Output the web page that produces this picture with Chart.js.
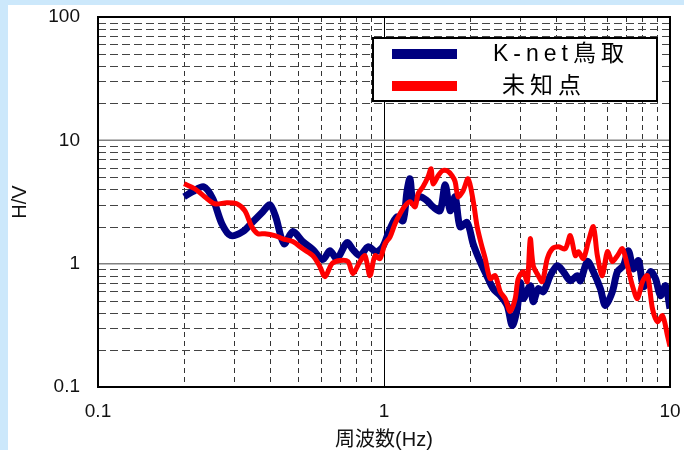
<!DOCTYPE html>
<html>
<head>
<meta charset="utf-8">
<script src="https://cdn.jsdelivr.net/npm/chart.js@4.4.1/dist/chart.umd.min.js"></script>
<style>
  html, body { margin: 0; padding: 0; background: #cce8fb; }
  #wrap { position: absolute; left: 0; top: 0; width: 684px; height: 450px; }
</style>
</head>
<body>
<div id="wrap"><canvas id="chart" width="684" height="450"></canvas></div>
<script>
// H/V spectral ratio, K-net station vs. unknown point
const seriesNames = ['K-net鳥取', '未知点'];

const freqKnet = [0.2, 0.214, 0.234, 0.252, 0.271, 0.291, 0.321, 0.348, 0.377, 0.399, 0.418, 0.447,
  0.48, 0.52, 0.564, 0.611, 0.647, 0.685, 0.742, 0.779, 0.824, 0.879, 0.938, 0.99, 1.05, 1.111,
  1.166, 1.204, 1.233, 1.264, 1.337, 1.414, 1.484, 1.571, 1.636, 1.703, 1.773, 1.845, 1.953,
  2.05, 2.169, 2.296, 2.409, 2.549, 2.697, 2.808, 2.923, 2.995, 3.068, 3.247, 3.326, 3.463,
  3.606, 3.815, 4.036, 4.236, 4.482, 4.742, 4.859, 5.14, 5.395, 5.709, 5.943, 6.289, 6.548,
  6.872, 7.154, 7.449, 7.757, 8.076, 8.545, 8.897, 9.263, 9.643, 10.0];
const hvKnet = [3.49, 3.83, 4.2, 3.36, 2.11, 1.69, 1.82, 2.19, 2.64, 3.0, 2.4, 1.45,
  1.82, 1.51, 1.3, 1.08, 1.27, 1.1, 1.48, 1.3, 1.16, 1.37, 1.25, 1.37, 1.92, 2.4,
  2.23, 3.9, 4.88, 3.24, 3.49, 3.24, 2.89, 2.69, 4.36, 2.69, 3.49, 1.99, 2.15,
  1.45, 1.04, 0.785, 0.627, 0.551, 0.457, 0.315, 0.432, 0.702, 0.521, 0.663, 0.492, 0.627,
  0.593, 0.799, 0.963, 0.861, 0.728, 0.799, 0.728, 1.04, 0.861, 0.627, 0.457, 0.593, 0.861,
  0.963, 1.27, 0.911, 1.06, 0.651, 0.861, 0.756, 0.551, 0.663, 0.432];

const freqPoint = [0.2, 0.218, 0.236, 0.256, 0.282, 0.306, 0.326, 0.345, 0.362, 0.383, 0.415, 0.443,
  0.48, 0.52, 0.564, 0.597, 0.622, 0.658, 0.701, 0.748, 0.779, 0.824, 0.858, 0.893, 0.93, 0.968,
  1.008, 1.05, 1.093, 1.138, 1.185, 1.233, 1.284, 1.316, 1.369, 1.426, 1.461, 1.484, 1.546,
  1.597, 1.663, 1.73, 1.773, 1.816, 1.891, 1.969, 2.05, 2.117, 2.187, 2.259, 2.351, 2.448,
  2.549, 2.653, 2.763, 2.876, 2.947, 3.068, 3.169, 3.247, 3.326, 3.463, 3.577, 3.724, 3.877,
  4.069, 4.305, 4.482, 4.667, 4.781, 4.978, 5.182, 5.395, 5.573, 5.801, 6.04, 6.289, 6.548,
  6.817, 7.097, 7.389, 7.694, 8.011, 8.341, 8.684, 9.042, 9.413, 9.8, 10.0];
const hvPoint = [4.44, 4.05, 3.49, 3.06, 3.12, 3.06, 2.69, 1.99, 1.75, 1.75, 1.69, 1.59,
  1.51, 1.32, 1.16, 0.946, 0.785, 1.0, 1.06, 1.04, 0.83, 1.04, 1.16, 0.799, 1.16, 1.1,
  1.45, 1.65, 2.11, 2.54, 2.95, 3.18, 2.89, 3.69, 4.2, 5.06, 5.88, 4.44, 5.16,
  5.66, 5.66, 5.16, 4.61, 3.49, 3.9, 4.88, 3.24, 1.99, 1.45, 1.1, 0.756, 0.799,
  0.593, 0.521, 0.409, 0.521, 0.756, 0.861, 0.715, 1.59, 0.963, 0.799, 0.715, 1.1, 1.32,
  1.37, 1.32, 1.69, 1.16, 1.25, 1.1, 1.51, 1.99, 1.16, 0.799, 1.25, 1.04, 1.16,
  1.32, 0.963, 0.663, 0.521, 0.715, 0.799, 0.432, 0.339, 0.379, 0.261, 0.213];

const xTicks = [0.1, 1, 10];
const yTicks = [0.1, 1, 10, 100];
const minorSteps = [2, 3, 4, 5, 6, 7, 8, 9];

const toPoints = (xs, ys) => xs.map((x, i) => ({ x, y: ys[i] }));

const crisp = v => Math.round(v) + 0.5;

// fixed axis boxes, no automatic label overhang padding
const fixBox = (w, h) => s => {
  if (w) s.width = w;
  if (h) s.height = h;
  s.paddingTop = s.paddingBottom = s.paddingLeft = s.paddingRight = 0;
};

const frame = {
  id: 'frame',
  beforeDraw(chart) {
    const { ctx, width, height } = chart;
    ctx.save();
    ctx.fillStyle = '#cce8fb';
    ctx.fillRect(0, 0, width, height);
    ctx.fillStyle = '#ffffff';
    ctx.fillRect(8, 5, width - 8, height - 5);
    ctx.restore();
  },
  beforeDatasetsDraw(chart) {
    const { ctx, chartArea: a, scales: { x, y } } = chart;
    ctx.save();
    ctx.lineWidth = 1;
    // minor vertical grid
    ctx.strokeStyle = '#333';
    ctx.setLineDash([5, 4]);
    xTicks.slice(0, -1).forEach(d => minorSteps.forEach(k => {
      const px = crisp(x.getPixelForValue(d * k));
      ctx.beginPath(); ctx.moveTo(px, a.top); ctx.lineTo(px, a.bottom); ctx.stroke();
    }));
    // minor horizontal grid
    ctx.strokeStyle = '#444';
    ctx.setLineDash([8, 4]);
    yTicks.slice(0, -1).forEach(d => minorSteps.forEach(k => {
      const py = crisp(y.getPixelForValue(d * k));
      ctx.beginPath(); ctx.moveTo(a.left, py); ctx.lineTo(a.right, py); ctx.stroke();
    }));
    ctx.setLineDash([]);
    // decade lines
    ctx.strokeStyle = '#000';
    xTicks.slice(1, -1).forEach(v => {
      const px = crisp(x.getPixelForValue(v));
      ctx.beginPath(); ctx.moveTo(px, a.top); ctx.lineTo(px, a.bottom); ctx.stroke();
    });
    ctx.strokeStyle = '#808080';
    ctx.lineWidth = 1.5;
    yTicks.slice(1, -1).forEach(v => {
      const py = y.getPixelForValue(v);
      ctx.beginPath(); ctx.moveTo(a.left, py); ctx.lineTo(a.right, py); ctx.stroke();
    });
    ctx.restore();
  },
  afterDatasetsDraw(chart) {
    const { ctx, chartArea: a } = chart;
    ctx.save();
    ctx.strokeStyle = '#000';
    ctx.lineWidth = 2;
    ctx.strokeRect(a.left, a.top, a.right - a.left, a.bottom - a.top);

    // legend box
    const bx = 373, by = 38, bw = 284, bh = 63;
    ctx.fillStyle = '#fff';
    ctx.fillRect(bx, by, bw, bh);
    ctx.strokeRect(bx, by, bw, bh);
    const rows = [{ y: 54, tx: 493 }, { y: 86, tx: 502 }];
    chart.data.datasets.slice().sort((p, q) => p.legendIndex - q.legendIndex).forEach((ds, i) => {
      const r = rows[i];
      ctx.fillStyle = ds.borderColor;
      ctx.fillRect(392, r.y - 5, 65, 10);
      ctx.fillStyle = '#000';
      ctx.font = '23px "Liberation Sans", Arial, "Noto Sans CJK JP", sans-serif';
      ctx.textBaseline = 'middle';
      ctx.letterSpacing = '5px';
      ctx.fillText(ds.label, r.tx, r.y + 1);
    });
    ctx.restore();
  }
};

Chart.defaults.font.family = '"Liberation Sans", Arial, "Noto Sans CJK JP", sans-serif';
Chart.defaults.color = '#111';

new Chart(document.getElementById('chart'), {
  type: 'line',
  data: {
    datasets: [
      {
        label: seriesNames[0],
        legendIndex: 0,
        data: toPoints(freqKnet, hvKnet),
        borderColor: '#000080',
        borderWidth: 7,
        tension: 0.3,
        pointRadius: 0,
        order: 1,
      },
      {
        label: seriesNames[1],
        legendIndex: 1,
        data: toPoints(freqPoint, hvPoint),
        borderColor: '#ff0000',
        borderWidth: 5,
        tension: 0.3,
        pointRadius: 0,
        order: 0,
      },
    ],
  },
  options: {
    responsive: false,
    animation: false,
    layout: { padding: { top: 17, right: 14, left: 0, bottom: 0 } },
    plugins: { legend: { display: false }, tooltip: { enabled: false } },
    scales: {
      x: {
        type: 'logarithmic',
        min: 0.1,
        max: 10,
        afterBuildTicks: s => { s.ticks = xTicks.map(value => ({ value })); },
        afterFit: fixBox(0, 63),
        grid: { display: false, drawTicks: false },
        border: { display: false },
        ticks: { callback: v => String(v), font: { size: 19 }, padding: 13, maxRotation: 0, autoSkip: false },
        title: { display: true, text: '周波数(Hz)', font: { size: 20, lineHeight: 1 }, padding: { top: 0, bottom: 0 }, color: '#111' },
      },
      y: {
        type: 'logarithmic',
        min: 0.1,
        max: 100,
        afterBuildTicks: s => { s.ticks = yTicks.map(value => ({ value })); },
        afterFit: fixBox(98, 0),
        grid: { display: false, drawTicks: false },
        border: { display: false },
        ticks: { callback: v => String(v), font: { size: 19 }, padding: 18, autoSkip: false },
        title: { display: true, text: 'H/V', font: { size: 20, lineHeight: 1 }, padding: { top: 10, bottom: 0 }, color: '#111' },
      },
    },
  },
  plugins: [frame],
});
</script>
</body>
</html>
